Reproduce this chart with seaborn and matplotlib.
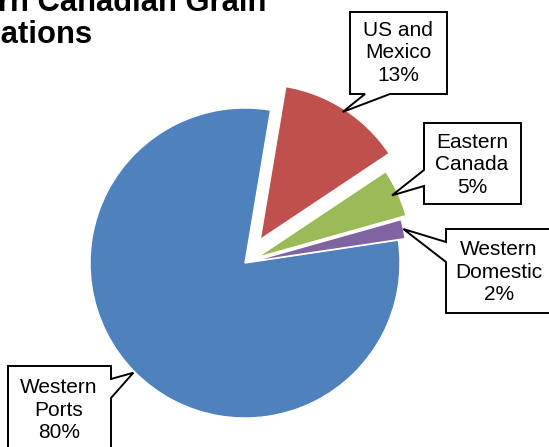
import matplotlib
matplotlib.use("Agg")
import matplotlib.pyplot as plt
import seaborn as sns
import numpy as np
from matplotlib.patches import Polygon

# ---- data ----
categories = ["Western Ports", "Western Domestic", "Eastern Canada", "US and Mexico"]
label_lines = ["Western\nPorts", "Western\nDomestic", "Eastern\nCanada", "US and\nMexico"]
shares = [80, 2, 5, 13]
colors = ["#4F81BD", "#8064A2", "#9BBB59", "#C0504D"]
title_lines = ["Western Canadian Grain", "Destinations"]

# ---- layout / style ----
explode = [0.0, 7, 13, 28]   # pixel offsets (matplotlib uses absolute data units)
W, H = 549, 447
# callout boxes in pixel coords (x0, y0, x1, y1) top-down, tail side, tail base, tip radius factor, text centre
callouts = [
    dict(box=(8, 366, 111, 472), side="right", base=(379, 398), f=1.01, txt=(59, 410)),
    dict(box=(446, 229, 556, 313), side="left", base=(242, 262), f=1.0, txt=(499, 272)),
    dict(box=(424, 123, 521, 204), side="left", base=(170, 186), f=0.96, txt=(472, 165)),
    dict(box=(350, 12, 447, 94), side="bottom", base=(365, 390), f=0.98, txt=(398, 53)),
]

sns.set_theme(style="white")
plt.rcParams["font.family"] = ["Liberation Sans", "DejaVu Sans"]

fig = plt.figure(figsize=(W / 100, H / 100), dpi=100)
ax = fig.add_axes([0, 0, 1, 1])
palette = sns.color_palette(colors)
wedges, _ = ax.pie(shares, explode=explode, colors=palette, startangle=80.5,
                   counterclock=True, center=(245, H - 263), radius=155, frame=False)
ax.set_xlim(0, W)
ax.set_ylim(0, H)
ax.set_aspect("auto")
ax.axis("off")


def flip(p):
    return (p[0], H - p[1])


for w, c, lab, val in zip(wedges, callouts, label_lines, shares):
    mid = np.deg2rad((w.theta1 + w.theta2) / 2)
    cx, cy = w.center
    tip = (cx + w.r * c["f"] * np.cos(mid), cy + w.r * c["f"] * np.sin(mid))
    x0, y0, x1, y1 = c["box"]
    a, b = c["base"]
    TL, TR, BR, BL = flip((x0, y0)), flip((x1, y0)), flip((x1, y1)), flip((x0, y1))
    if c["side"] == "bottom":
        pts = [TL, TR, BR, flip((b, y1)), tip, flip((a, y1)), BL]
    elif c["side"] == "left":
        pts = [TL, TR, BR, BL, flip((x0, b)), tip, flip((x0, a))]
    else:
        pts = [TL, TR, flip((x1, a)), tip, flip((x1, b)), BR, BL]
    ax.add_patch(Polygon(pts, closed=True, facecolor="white", edgecolor="black",
                         linewidth=1.4, zorder=5, clip_on=False))
    tx, ty = flip(c["txt"])
    ax.text(tx, ty, f"{lab}\n{val}%", ha="center", va="center", fontsize=15,
            linespacing=1.25, color="black", zorder=6)

fig.text(-93 / W, 1 - 11 / H, title_lines[0], ha="left", va="baseline",
         fontsize=22.3, fontweight="bold", color="black")
fig.text(-93 / W, 1 - 43 / H, title_lines[1], ha="left", va="baseline",
         fontsize=22.3, fontweight="bold", color="black")

fig.savefig("out.png", dpi=100)
